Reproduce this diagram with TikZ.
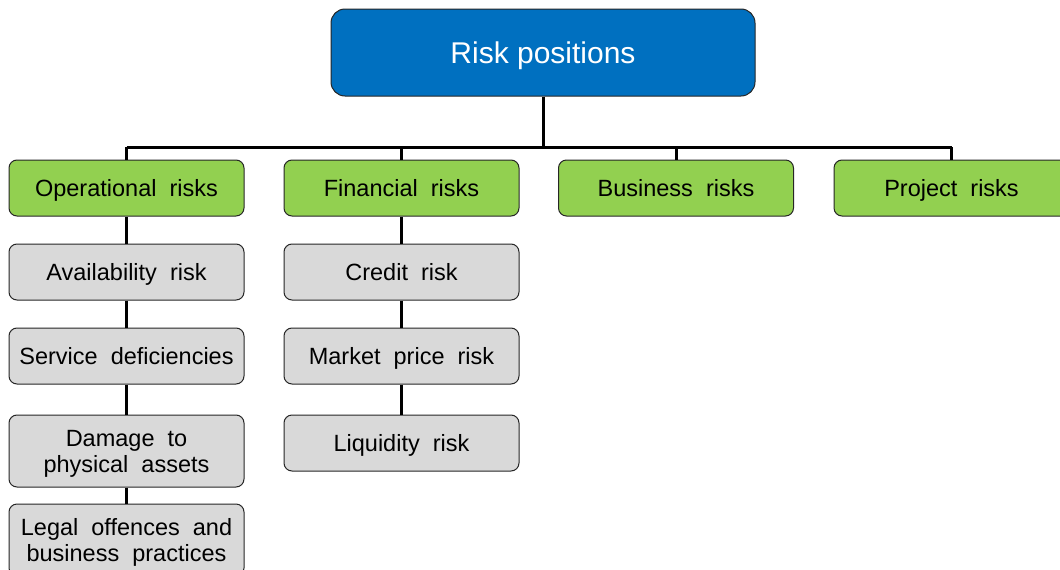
\documentclass[tikz,border=0pt]{standalone}
\usepackage{fontspec}
\setmainfont{Liberation Sans}
\definecolor{topblue}{HTML}{0070C0}
\definecolor{catgreen}{HTML}{92D050}
\definecolor{subgray}{HTML}{D9D9D9}
\begin{document}
\begin{tikzpicture}[x=1pt,y=-1pt,
  topbox/.style={draw=black!85, line width=1pt, fill=topblue, rounded corners=14pt,
    minimum width=424pt, minimum height=87pt, text=white, font=\fontsize{30}{34}\selectfont,
    inner sep=0pt, text height=21.5pt, text depth=0pt},
  catbox/.style={draw=black!85, line width=1pt, fill=catgreen, rounded corners=8pt,
    minimum width=235pt, minimum height=56pt, font=\fontsize{23.5}{26}\selectfont,
    inner sep=0pt, text height=16.8pt, text depth=0pt},
  subbox/.style={draw=black!85, line width=1pt, fill=subgray, rounded corners=8pt,
    minimum width=235pt, minimum height=56pt, font=\fontsize{23.5}{26}\selectfont,
    inner sep=0pt, align=center, text height=16.8pt, text depth=0pt},
  twoline/.style={minimum height=72pt, text height=42.8pt},
  conn/.style={draw=black, line width=3pt}
]
\useasboundingbox (0,0) rectangle (1060,570);
\clip (0,0) rectangle (1060,570);

\node[topbox] (top) at (543,52.5) {Risk positions};

\node[catbox] (op)  at (126.5,188) {Operational\ \ risks};
\node[catbox] (fin) at (401.5,188) {Financial\ \ risks};
\node[catbox] (bus) at (676,188) {Business\ \ risks};
\node[catbox] (pro) at (951.5,188) {Project\ \ risks};

\node[subbox] (av)  at (126.5,272) {Availability\ \ risk};
\node[subbox] (sd)  at (126.5,356) {Service\ \ deficiencies};
\node[subbox, twoline] (dm) at (126.5,451) {Damage\ \ to\\physical\ \ assets};
\node[subbox, twoline] (lg) at (126.5,540) {Legal\ \ offences\ \ and\\business\ \ practices};

\node[subbox] (cr)  at (401.5,272) {Credit\ \ risk};
\node[subbox] (mp)  at (401.5,356) {Market\ \ price\ \ risk};
\node[subbox] (lq)  at (401.5,443) {Liquidity\ \ risk};

\coordinate (bus-y) at (0,147);
\path[conn] (top.south) -- (top.south |- bus-y);
\path[conn] (op.north |- bus-y) -- (pro.north |- bus-y);
\foreach \n in {op,fin,bus,pro}{
  \path[conn] (\n.north |- bus-y) -- (\n.north);
}
\path[conn] (op.south) -- (av.north);
\path[conn] (av.south) -- (sd.north);
\path[conn] (sd.south) -- (dm.north);
\path[conn] (dm.south) -- (lg.north);
\path[conn] (fin.south) -- (cr.north);
\path[conn] (cr.south) -- (mp.north);
\path[conn] (mp.south) -- (lq.north);
\end{tikzpicture}
\end{document}
